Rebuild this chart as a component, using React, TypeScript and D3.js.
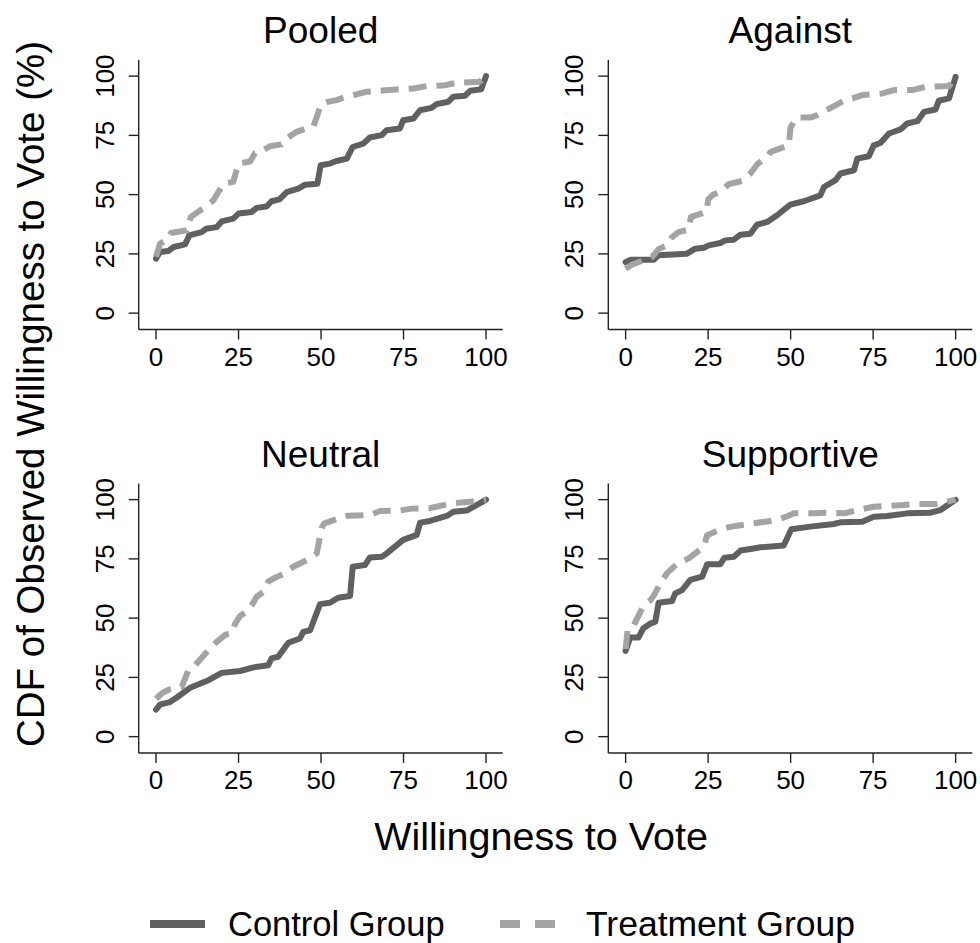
import React from "react";
import * as d3 from "d3";

// ---------- DATA ----------
const panelTitles = ["Pooled", "Against", "Neutral", "Supportive"];
const xTicks = [0, 25, 50, 75, 100];
const yTicks = [0, 25, 50, 75, 100];
const seriesNames = ["Control Group", "Treatment Group"];

type P = [number, number];

const pooledControl: P[] = [
  [0, 23], [1.2, 25.8], [3.7, 26.2], [5.3, 27.9], [8.8, 29], [10.1, 32.8], [13.8, 34.2],
  [15.2, 35.6], [18.4, 36.3], [19.9, 38.7], [23.4, 39.9], [25, 42], [29, 42.7], [30.5, 44.4],
  [33.5, 45], [35, 47.2], [37.4, 48], [39.6, 51.1], [43.1, 52.5], [45.2, 54.2], [48.9, 54.6],
  [49.9, 62.4], [52.7, 63.1], [54.7, 64.2], [57.8, 65.2], [59.6, 70.1], [62.8, 71.5],
  [64.8, 74.1], [68.4, 75.1], [69.9, 77.2], [73.9, 77.9], [74.9, 81.4], [78, 82.1],
  [80, 85.6], [83.5, 86.6], [85, 88.2], [88.6, 89.2], [90.1, 91.3], [93.6, 91.7],
  [95.2, 93.8], [98.5, 94.4], [100, 100],
];
const pooledTreatment: P[] = [
  [0, 23.7], [1.2, 29.3], [3.5, 31], [4.5, 33.8], [9.3, 35], [10.5, 40.5], [14.8, 44.8],
  [17.4, 47.6], [20.4, 54.6], [23.4, 55.4], [25, 63.1], [28.5, 64], [30, 67.5], [32, 68.3],
  [34.5, 70.4], [38, 71.2], [39.6, 73.7], [42.6, 76.5], [47.7, 78.9], [48.7, 82.8],
  [50, 88], [51.7, 89], [54.7, 89.9], [57, 91], [59.8, 92], [63.8, 93.4], [69.4, 94],
  [73, 94.4], [78, 94.8], [82, 95.8], [87, 96], [91, 97.2], [98, 97.6], [100, 100],
];
const againstControl: P[] = [
  [0, 21.5], [1.4, 22.5], [8.5, 22.5], [10, 24.4], [18.6, 25.1], [21.1, 27.2], [23.7, 27.6],
  [25.2, 28.6], [28.7, 29.6], [30.2, 30.7], [32.8, 31], [34.8, 33.1], [37.8, 33.5],
  [39.8, 37.3], [42.9, 38.5], [45.9, 41.3], [49.9, 45.8], [54, 47.2], [59, 49.7],
  [60.1, 53.2], [63.6, 56.1], [65.1, 58.9], [69.2, 60.3], [70.2, 65.2], [73.7, 66.2],
  [75.2, 70.8], [77.2, 71.8], [79.8, 75.8], [83.3, 77.5], [85.3, 80], [88.4, 81],
  [90.4, 84.9], [93.9, 85.9], [94.9, 89.6], [98, 90.6], [100, 99.7],
];
const againstTreatment: P[] = [
  [0, 18.7], [2, 20.5], [5.5, 22.3], [8, 23.7], [10, 27], [12.5, 28.6], [14, 32], [16, 34.2],
  [19, 35.2], [19.8, 40.6], [24.5, 42.7], [25, 48], [26.5, 50], [28.7, 51.1], [31.2, 54.4],
  [35.3, 55.8], [37.8, 58.9], [40, 63], [42.9, 65.9], [43.9, 68], [49.4, 70.8], [50, 78.5],
  [52, 82.6], [56, 82.5], [58, 83.5], [60, 85], [63.6, 87.7], [66, 89.5], [68.7, 90.6],
  [71.7, 92], [77.8, 92.7], [81.3, 94.1], [86.9, 94.1], [90.9, 95.5], [98, 95.8], [100, 100],
];
const neutralControl: P[] = [
  [0, 11.4], [1.2, 13.5], [4.2, 14.6], [6.3, 16.5], [10.3, 20.6], [15.9, 23.8], [19.9, 26.9],
  [25.5, 27.7], [29.5, 29.2], [34, 30.1], [35, 33], [37, 33.7], [40.1, 39.6], [43.6, 41.4],
  [44.6, 44.2], [46.7, 44.9], [49.7, 55.9], [52.7, 56.5], [55.2, 58.6], [58.8, 59.3],
  [59.6, 71.7], [63.3, 72.4], [64.8, 75.6], [68.4, 75.9], [69.9, 77.3], [74.9, 83],
  [79, 85.1], [80, 90.3], [83, 91], [88.1, 93.1], [90.1, 94.9], [94.1, 95.4], [98.2, 98.5],
  [100, 100],
];
const neutralTreatment: P[] = [
  [0, 16], [2, 18.5], [4.2, 20], [7.8, 21], [9.8, 28], [11.8, 30], [15.9, 36.5], [18.4, 40],
  [21, 43], [22.9, 43.5], [24, 47.7], [25.5, 51], [27.5, 52.7], [29, 55.5], [30.5, 59],
  [32.5, 61], [34, 65.4], [36, 67], [39.1, 68.9], [41.6, 71.7], [46.7, 75.2], [48.7, 77.3],
  [50.2, 88], [51, 90], [55.3, 92], [58, 93.2], [64.8, 93.5], [67.9, 95.2], [73.9, 95.4],
  [77.5, 96.2], [83, 96.4], [86.6, 97.5], [90, 98.5], [95.7, 99.2], [100, 100],
];
const supportiveControl: P[] = [
  [0, 36.2], [1.4, 41.8], [3.9, 41.8], [5.3, 45.6], [7.5, 47.7], [9, 48.5], [10, 56.5],
  [14.1, 57.2], [15, 60.4], [17.1, 61.8], [19.6, 66.1], [23.2, 67.5], [24.7, 72.7],
  [28.7, 72.7], [29.9, 75.5], [32.8, 75.9], [34.8, 78.5], [38.8, 79.4], [40.8, 79.9],
  [47.9, 80.6], [50.2, 87.5], [56, 88.6], [63.1, 89.7], [65.1, 90.4], [71.7, 90.7],
  [75.2, 92.8], [79.3, 93.1], [85.3, 94.2], [92.4, 94.5], [95.4, 95.6], [100, 99.9],
];
const supportiveTreatment: P[] = [
  [0, 37], [0.6, 45], [2.2, 46], [3, 48.5], [5.5, 55.5], [7.5, 57.5], [8.5, 59.5],
  [10.5, 64.6], [12.5, 68.9], [15.5, 72.8], [17, 73.8], [19.1, 75.2], [23.7, 80.1],
  [24.7, 85], [28, 87], [30, 88], [33.3, 88.9], [38.8, 90], [42.4, 90.7], [46, 91.5],
  [49, 93], [51, 94.2], [57, 94.2], [60.6, 94.5], [66.6, 94.3], [70.2, 95.6], [75.2, 97],
  [79.3, 97.3], [84.3, 97.7], [88.4, 98.2], [94.4, 98.2], [100, 100],
];

const panelControl = [pooledControl, againstControl, neutralControl, supportiveControl];
const panelTreatment = [pooledTreatment, againstTreatment, neutralTreatment, supportiveTreatment];

// ---------- LAYOUT ----------
const W = 980;
const H = 943;
const colLeft = [138.7, 608.3];
const rowTop = [60, 483.5];
const pw = 364;
const ph = 269.5;
const FONT = "'Liberation Sans', Arial, Helvetica, sans-serif";
const controlColor = "#606060";
const treatColor = "#a4a4a4";
const axisColor = "#222";

function Panel({ idx }: { idx: number }) {
  const col = idx % 2;
  const row = Math.floor(idx / 2);
  const x0 = colLeft[col];
  const y0 = rowTop[row];
  const x = d3.scaleLinear().domain([-5.25, 105.05]).range([x0, x0 + pw]);
  const y = d3.scaleLinear().domain([-6.9, 106.8]).range([y0 + ph, y0]);
  const line = d3
    .line<P>()
    .x((d) => x(d[0]))
    .y((d) => y(d[1]));
  const bottom = y0 + ph;
  return (
    <g>
      <text
        x={x0 + pw / 2}
        y={y0 - 16.7}
        textAnchor="middle"
        fontSize={37}
        fontFamily={FONT}
        fill="#000"
      >
        {panelTitles[idx]}
      </text>
      <line x1={x0} x2={x0} y1={y0} y2={bottom} stroke={axisColor} strokeWidth={1.4} />
      <line x1={x0} x2={x0 + pw} y1={bottom} y2={bottom} stroke={axisColor} strokeWidth={1.4} />
      {yTicks.map((t) => (
        <g key={"y" + t}>
          <line x1={x0 - 10} x2={x0} y1={y(t)} y2={y(t)} stroke={axisColor} strokeWidth={1.4} />
          <text
            transform={`translate(${x0 - 25},${y(t)}) rotate(-90)`}
            textAnchor="middle"
            fontSize={26}
            fontFamily={FONT}
            fill="#000"
          >
            {t}
          </text>
        </g>
      ))}
      {xTicks.map((t) => (
        <g key={"x" + t}>
          <line x1={x(t)} x2={x(t)} y1={bottom} y2={bottom + 10} stroke={axisColor} strokeWidth={1.4} />
          <text
            x={x(t)}
            y={bottom + 36}
            textAnchor="middle"
            fontSize={26}
            fontFamily={FONT}
            fill="#000"
          >
            {t}
          </text>
        </g>
      ))}
      <path
        d={line(panelControl[idx]) || ""}
        fill="none"
        stroke={controlColor}
        strokeWidth={6}
        strokeLinejoin="round"
        strokeLinecap="round"
      />
      <path
        d={line(panelTreatment[idx]) || ""}
        fill="none"
        stroke={treatColor}
        strokeWidth={6}
        strokeDasharray="18 10"
        strokeLinejoin="round"
      />
    </g>
  );
}

export default function App() {
  return (
    <svg
      width={W}
      height={H}
      viewBox={`0 0 ${W} ${H}`}
      style={{ display: "block", position: "absolute", left: 0, top: 0, background: "#fff" }}
    >
      <rect x={0} y={0} width={W} height={H} fill="#fff" />
      {panelTitles.map((_, i) => (
        <Panel key={i} idx={i} />
      ))}
      <text
        transform={`translate(44,394) rotate(-90)`}
        textAnchor="middle"
        fontSize={38.5}
        fontFamily={FONT}
        fill="#000"
      >
        CDF of Observed Willingness to Vote (%)
      </text>
      <text x={541} y={850} textAnchor="middle" fontSize={39.5} fontFamily={FONT} fill="#000">
        Willingness to Vote
      </text>
      <line x1={150} x2={205} y1={924} y2={924} stroke={controlColor} strokeWidth={8} />
      <text x={228} y={936} fontSize={34.5} fontFamily={FONT} fill="#000">
        {seriesNames[0]}
      </text>
      <line
        x1={500}
        x2={555}
        y1={924}
        y2={924}
        stroke={treatColor}
        strokeWidth={8}
        strokeDasharray="20 15"
      />
      <text x={586} y={936} fontSize={35.5} fontFamily={FONT} fill="#000">
        {seriesNames[1]}
      </text>
    </svg>
  );
}
